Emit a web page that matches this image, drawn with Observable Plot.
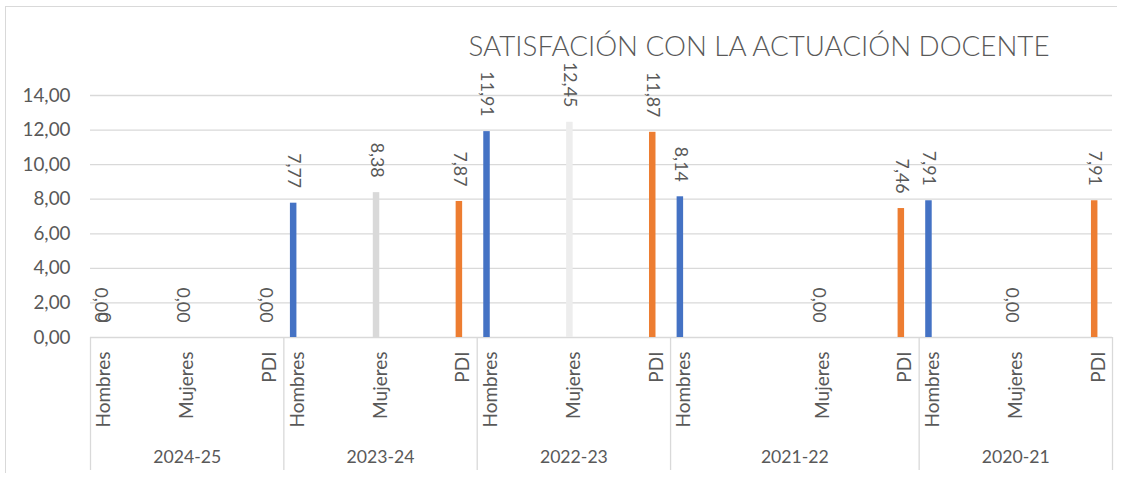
<!DOCTYPE html>
<html><head><meta charset="utf-8">
<script src="https://cdn.jsdelivr.net/npm/d3@7"></script>
<script src="https://cdn.jsdelivr.net/npm/@observablehq/plot@0.6"></script>
<style>
html,body{margin:0;padding:0;background:#fff;}
#wrap{position:relative;width:1126px;height:477px;overflow:hidden;}
#border{position:absolute;left:5px;top:6px;width:1111px;height:466px;border-left:1.5px solid #d9d9d9;border-top:1.5px solid #d9d9d9;pointer-events:none;}
</style></head><body>
<div id="wrap"></div>
<script>
// ---- data ----
const title = "SATISFACIÓN CON LA ACTUACIÓN DOCENTE";
const years = ["2024-25", "2023-24", "2022-23", "2021-22", "2020-21"];
const categories = ["Hombres", "Mujeres", "PDI"];
// row layout of each year block in the source sheet (blank rows included)
const layoutStd = ["Hombres", "", "", "Mujeres", "", "", "PDI"];
const layoutWide = ["Hombres", "", "", "", "", "Mujeres", "", "", "PDI"];
const yearLayouts = [layoutStd, layoutStd, layoutStd, layoutWide, layoutStd];
const hombres = [0, 7.77, 11.91, 8.14, 7.91];
const mujeres = [0, 8.38, 12.45, 0, 0];
const pdi = [0, 7.87, 11.87, 7.46, 7.91];
const extraSeries = [0, null, null, null, null]; // second series on the Hombres row, "General" format
const yTicks = [0, 2, 4, 6, 8, 10, 12, 14];

// ---- styles ----
const seriesColor = {Hombres: "#4472C4", Mujeres: "#D9D9D9", PDI: "#ED7D31"};
const mujeresShade = ["#D9D9D9", "#D9D9D9", "#EDEDED", "#D9D9D9", "#D9D9D9"];
const FONT = "Lato, 'Open Sans', sans-serif";
const TXT = "#595959";
const GRID = "#D9D9D9";

const ctx = document.createElement("canvas").getContext("2d");
function fit(text, target, weight = "400") {
  ctx.font = `${weight} 100px ${FONT}`;
  return 100 * target / ctx.measureText(text).width;
}
const fsTick = fit("14,00", 48);
const fsCat = fit("Hombres", 76);
const fsVal = fit("8,38", 35);
const fsYear = fit("2021-22", 68);
const fsTitle = fit(title, 583, "300");

const fmt = v => v.toFixed(2).replace(".", ",");

// ---- derived tables ----
const leaves = [];
years.forEach((yr, yi) => yearLayouts[yi].forEach((name, li) =>
  leaves.push({key: `${yr}|${li}`, year: yr, name, li, n: yearLayouts[yi].length})));
const seriesValues = {Hombres: hombres, Mujeres: mujeres, PDI: pdi};
const bars = [];
years.forEach((yr, yi) => categories.forEach(c => {
  const li = yearLayouts[yi].indexOf(c);
  bars.push({key: `${yr}|${li}`, year: yr, series: c, value: seriesValues[c][yi],
    color: c === "Mujeres" ? mujeresShade[yi] : seriesColor[c]});
}));
const extra = [];
years.forEach((yr, yi) => {
  if (extraSeries[yi] != null) extra.push({key: `${yr}|${yearLayouts[yi].indexOf("Hombres")}`, value: extraSeries[yi]});
});
const catLabels = leaves.filter(d => d.name !== "");
const yearLabels = leaves.filter(d => d.li === Math.floor(d.n / 2));
const groupStarts = leaves.filter(d => d.li === 0);
const groupEnd = [leaves[leaves.length - 1]];

// ---- layout ----
const W = 1126, H = 477, mL = 90, mR = 14, mT = 95, mB = 140;
const bw = (W - mL - mR) / leaves.length;
const barW = 6.5, barShift = -4;

const chart = Plot.plot({
  width: W, height: H,
  marginLeft: mL, marginRight: mR, marginTop: mT, marginBottom: mB,
  style: {fontFamily: FONT, fontSize: fsTick + "px", color: TXT, background: "transparent", overflow: "visible"},
  x: {type: "band", domain: leaves.map(d => d.key), padding: 0, round: false, axis: null},
  y: {domain: [0, 14], ticks: yTicks, tickSize: 0, tickPadding: 20, tickFormat: fmt, label: null},
  color: {type: "identity"},
  marks: [
    Plot.ruleY(yTicks, {y: d => d, stroke: GRID, strokeWidth: 1.3}),
    Plot.ruleX(groupStarts, {x: "key", y1: 0, y2: 0, insetBottom: -133, dx: -bw / 2, stroke: GRID, strokeWidth: 1.3}),
    Plot.ruleX(groupEnd, {x: "key", y1: 0, y2: 0, insetBottom: -133, dx: bw / 2, stroke: GRID, strokeWidth: 1.3}),
    Plot.barY(bars, {x: "key", y: "value", fill: "color",
      insetLeft: bw / 2 + barShift - barW / 2, insetRight: bw / 2 - barShift - barW / 2}),
    Plot.text(bars, {x: "key", y: "value", text: d => fmt(d.value), rotate: 90, textAnchor: "end",
      lineAnchor: "middle", dx: barShift, dy: -15, fontSize: fsVal, fill: TXT}),
    Plot.text(extra, {x: "key", y: "value", text: d => String(d.value), rotate: 90, textAnchor: "end",
      lineAnchor: "middle", dx: barShift + 3.5, dy: -15, fontSize: fsVal, fill: TXT}),
    Plot.text(catLabels, {x: "key", text: "name", frameAnchor: "bottom", rotate: -90, textAnchor: "end",
      lineAnchor: "middle", dy: 14, fontSize: fsCat, fill: TXT}),
    Plot.text(yearLabels, {x: "key", text: "year", frameAnchor: "bottom", lineAnchor: "middle",
      dy: 120, fontSize: fsYear, fill: TXT}),
    Plot.text([title], {text: d => d, frameAnchor: "top", dx: 157.5, dy: -40, lineAnchor: "bottom",
      fontSize: fsTitle, fontWeight: 300, fill: TXT})
  ]
});
const wrap = document.getElementById("wrap");
wrap.appendChild(chart);
const border = document.createElement("div");
border.id = "border";
wrap.appendChild(border);
</script>
</body></html>
